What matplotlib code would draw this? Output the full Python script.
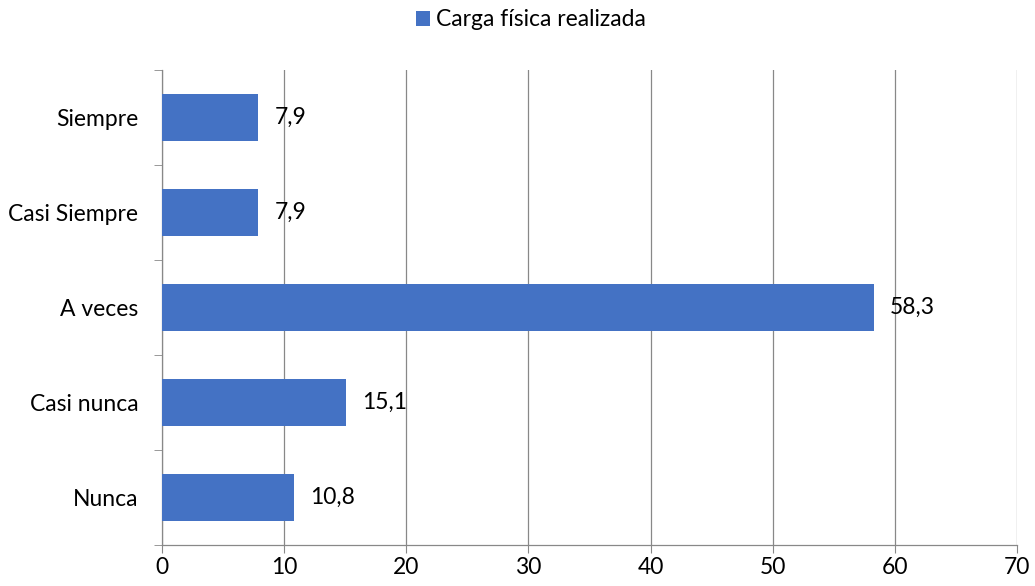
import matplotlib
matplotlib.use("Agg")
import matplotlib.pyplot as plt
import numpy as np

categories = ["Nunca", "Casi nunca", "A veces", "Casi Siempre", "Siempre"]
values = [10.8, 15.1, 58.3, 7.9, 7.9]
labels = ["10,8", "15,1", "58,3", "7,9", "7,9"]
series_name = "Carga física realizada"
xticks = [0, 10, 20, 30, 40, 50, 60, 70]

plt.rcParams['font.family'] = ['Lato', 'DejaVu Sans']
FS = 16.5

fig = plt.figure(figsize=(10.35, 5.86), dpi=100)
ax = fig.add_axes([162/1035, 41/586, (1017-162)/1035, (545-70)/586])

color = "#4472C4"
y = np.arange(len(categories))
bars = ax.barh(y, values, height=0.5, color=color, label=series_name, zorder=3)
for yi, v, lab in zip(y, values, labels):
    ax.text(v + 1.3, yi, lab, va='center', ha='left', fontsize=FS, color='black')

ax.set_xlim(0, 70)
ax.set_ylim(-0.5, len(categories) - 0.5)
ax.set_xticks(xticks)
ax.set_xticklabels([str(t) for t in xticks], fontsize=FS)
ax.set_yticks(y)
ax.set_yticklabels(categories, fontsize=FS)
ax.tick_params(axis='y', length=0, pad=17)
ax.tick_params(axis='x', length=6, color='#888888', pad=3, direction='out')
ax.set_yticks(np.arange(-0.5, len(categories), 1.0), minor=True)
ax.tick_params(axis='y', which='minor', length=6, color='#888888', direction='out')
ax.grid(axis='x', color='#888888', linewidth=0.9, zorder=0)
for s in ['top', 'right']:
    ax.spines[s].set_visible(False)
for s in ['left', 'bottom']:
    ax.spines[s].set_color('#888888')
    ax.spines[s].set_linewidth(0.9)

fig.legend(handles=[bars], labels=[series_name], loc='center', bbox_to_anchor=(531/1035, 1 - 20/586),
           frameon=False, fontsize=FS, handlelength=0.6, handleheight=0.6, handletextpad=0.3)

fig.savefig("out.png", dpi=100)
